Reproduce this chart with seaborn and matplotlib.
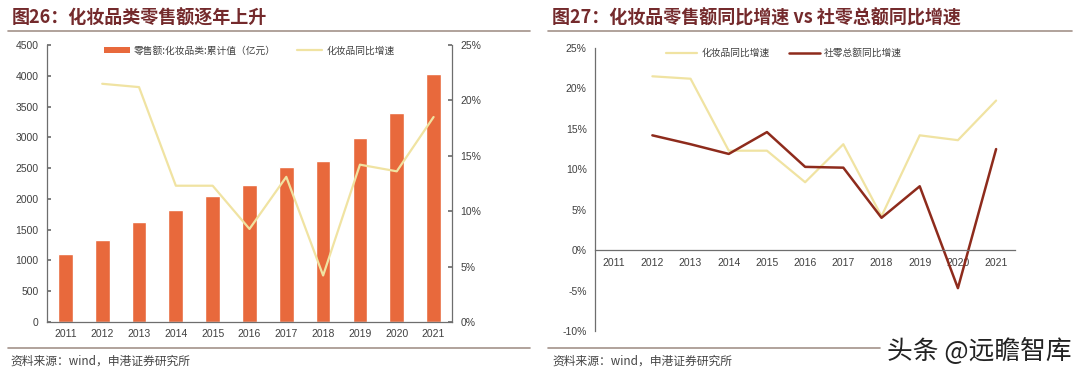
import numpy as np
import pandas as pd
import matplotlib
matplotlib.use("Agg")
import matplotlib.pyplot as plt
import seaborn as sns
from matplotlib.lines import Line2D
from matplotlib.patches import Patch
from matplotlib.ticker import FuncFormatter, FixedLocator

sns.set_theme(style="white")
plt.rcParams['font.family'] = ['Liberation Sans', 'Noto Sans CJK SC', 'DejaVu Sans']
plt.rcParams['axes.unicode_minus'] = False

# ---------------- data ----------------
years = ['2011', '2012', '2013', '2014', '2015', '2016', '2017', '2018', '2019', '2020', '2021']
cosmetic_sales = [1103, 1340, 1625, 1825, 2049, 2222, 2514, 2619, 2992, 3400, 4026]
cosmetic_growth = [np.nan, 21.5, 21.2, 12.3, 12.3, 8.4, 13.1, 4.2, 14.2, 13.6, 18.5]
retail_growth = [np.nan, 14.2, 13.1, 11.9, 14.6, 10.3, 10.2, 4.0, 7.9, -4.7, 12.5]

left_title = '图26：化妆品类零售额逐年上升'
right_title = '图27：化妆品零售额同比增速 vs 社零总额同比增速'
bar_label = '零售额:化妆品类:累计值（亿元）'
cos_label = '化妆品同比增速'
ret_label = '社零总额同比增速'
source_text = '资料来源：wind，申港证券研究所'
watermark = '头条 @远瞻智库'

# ---------------- styles ----------------
BAR_C = '#E8693C'
COS_C = '#F0E3A2'
RET_C = '#8E2B1C'
TITLE_C = '#742A2C'
RULE_C = '#A3928A'
SPINE_C = '#6E6E6E'
TXT_C = '#404040'
CJK = ['Noto Sans CJK SC', 'DejaVu Sans']

pos = np.arange(len(years))
df = pd.DataFrame({'year': years, 'pos': pos, 'sales': cosmetic_sales,
                   'cos': cosmetic_growth, 'ret': retail_growth})

fig = plt.figure(figsize=(10.8, 3.75), dpi=100)
fig.patch.set_facecolor('white')

# ---------------- left chart ----------------
axL = fig.add_axes([0.0435, 0.1413, 0.375, 0.7387])
sns.barplot(data=df, x='pos', y='sales', color=BAR_C, width=0.4,
            saturation=1, ax=axL, native_scale=True)
axL.set_xlim(-0.5, len(years) - 0.5)
axL.set_ylim(0, 4500)
axL.set_yticks(np.arange(0, 4501, 500))
axL.set_xticks(pos)
axL.set_xticklabels(years)
axL.xaxis.set_minor_locator(FixedLocator(pos[:-1] + 0.5))
axL.set_xlabel('')
axL.set_ylabel('')
axR = axL.twinx()
sns.lineplot(data=df.dropna(subset=['cos']), x='pos', y='cos', color=COS_C,
             linewidth=1.6, ax=axR)
axR.set_ylim(0, 25)
axR.set_yticks(np.arange(0, 26, 5))
axR.yaxis.set_major_formatter(FuncFormatter(lambda v, p: f'{v:.0f}%'))
axR.set_xlim(-0.5, len(years) - 0.5)
axR.set_ylabel('')
axR.set_xlabel('')

for a in (axL, axR):
    a.set_facecolor('none')
    a.grid(False)
    for s in a.spines.values():
        s.set_color(SPINE_C)
        s.set_linewidth(0.9)
    a.spines['top'].set_visible(False)
axL.spines['right'].set_visible(False)
axR.spines['left'].set_visible(False)
axR.spines['bottom'].set_visible(False)
axL.tick_params(axis='y', direction='in', length=3, color=SPINE_C, labelsize=7.5, labelcolor=TXT_C, pad=6)
axL.tick_params(axis='x', which='major', length=0, labelsize=7.5, labelcolor=TXT_C, pad=5)
axL.tick_params(axis='x', which='minor', direction='in', length=3, color=SPINE_C)
axR.tick_params(axis='y', direction='in', length=3, color=SPINE_C, labelsize=7.5, labelcolor=TXT_C, pad=6)

handlesL = [Patch(facecolor=BAR_C, edgecolor='none'),
            Line2D([], [], color=COS_C, linewidth=1.6)]
axL.legend(handlesL, [bar_label, cos_label], loc='upper center', bbox_to_anchor=(0.5, 1.03),
           ncol=2, frameon=False, prop={'family': CJK, 'size': 7}, handlelength=2.6,
           handleheight=0.45, columnspacing=2.2, handletextpad=0.4, labelcolor=TXT_C)

# ---------------- right chart ----------------
ax2 = fig.add_axes([0.551, 0.1173, 0.389, 0.7547])
sns.lineplot(data=df.dropna(subset=['cos']), x='pos', y='cos', color=COS_C,
             linewidth=1.6, ax=ax2, label=cos_label)
sns.lineplot(data=df.dropna(subset=['ret']), x='pos', y='ret', color=RET_C,
             linewidth=1.8, ax=ax2, label=ret_label)
ax2.set_xlim(-0.5, len(years) - 0.5)
ax2.set_ylim(-10, 25)
ax2.set_yticks(np.arange(-10, 26, 5))
ax2.yaxis.set_major_formatter(FuncFormatter(lambda v, p: f'{v:.0f}%'))
ax2.set_xticks(pos)
ax2.set_xticklabels(years)
ax2.xaxis.set_minor_locator(FixedLocator(pos[:-1] + 0.5))
ax2.set_xlabel('')
ax2.set_ylabel('')
ax2.grid(False)
ax2.spines['top'].set_visible(False)
ax2.spines['right'].set_visible(False)
ax2.spines['bottom'].set_position(('data', 0))
for s in ('left', 'bottom'):
    ax2.spines[s].set_color(SPINE_C)
    ax2.spines[s].set_linewidth(0.9)
ax2.tick_params(axis='y', direction='in', length=3, color=SPINE_C, labelsize=7.5, labelcolor=TXT_C, pad=6)
ax2.tick_params(axis='x', which='major', length=0, labelsize=7.5, labelcolor=TXT_C, pad=6)
ax2.tick_params(axis='x', which='minor', direction='in', length=3, color=SPINE_C)
ax2.legend(loc='upper center', bbox_to_anchor=(0.45, 1.03), ncol=2, frameon=False,
           prop={'family': CJK, 'size': 7}, handlelength=3.2, columnspacing=2.0,
           handletextpad=0.4, labelcolor=TXT_C)

# ---------------- titles, rules, source ----------------
def hline(x0, x1, y):
    fig.add_artist(Line2D([x0 / 1080, x1 / 1080], [1 - y / 375, 1 - y / 375],
                          color=RULE_C, linewidth=1.2))

fig.text(12 / 1080, 1 - 18 / 375, left_title, fontsize=13, fontweight='bold',
         color=TITLE_C, va='center', ha='left', family=CJK)
fig.text(552 / 1080, 1 - 18 / 375, right_title, fontsize=13, fontweight='bold',
         color=TITLE_C, va='center', ha='left', family=CJK)
hline(8, 530, 31)
hline(548, 1072, 31)
hline(8, 530, 348)
hline(548, 880, 348)
fig.text(10 / 1080, 1 - 361 / 375, source_text, fontsize=8.5, style='italic',
         color='#444444', va='center', ha='left', family=CJK)
fig.text(552 / 1080, 1 - 361 / 375, source_text, fontsize=8.5, style='italic',
         color='#444444', va='center', ha='left', family=CJK)
fig.text(1072 / 1080, 1 - 351 / 375, watermark, fontsize=18.5, color='#222222',
         va='center', ha='right', family=CJK)

fig.savefig('out.png', dpi=100, facecolor='white')
